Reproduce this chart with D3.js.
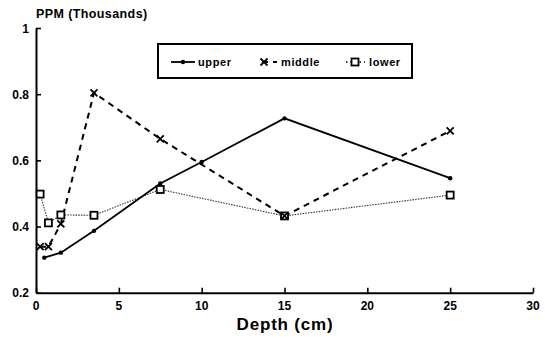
<!DOCTYPE html>
<html>
<head>
<meta charset="utf-8">
<script src="https://cdn.jsdelivr.net/npm/d3@7"></script>
<style>
  html, body { margin: 0; padding: 0; background: #fff; }
  svg { display: block; }
  text { font-family: "Liberation Sans", Arial, sans-serif; font-weight: bold; fill: #000; }
</style>
</head>
<body>
<svg id="chart" width="545" height="344"></svg>
<script>
// Depth (cm) and concentration (PPM, thousands) for each soil layer
const upperDepth = [0.5, 1.5, 3.5, 7.5, 10, 15, 25];
const upperPPM   = [0.306, 0.321, 0.387, 0.530, 0.595, 0.727, 0.546];

const middleDepth = [0.25, 0.75, 1.5, 3.5, 7.5, 15, 25];
const middlePPM   = [0.339, 0.339, 0.408, 0.804, 0.665, 0.432, 0.689];

const lowerDepth = [0.25, 0.75, 1.5, 3.5, 7.5, 15, 25];
const lowerPPM   = [0.498, 0.411, 0.435, 0.434, 0.512, 0.432, 0.495];

const xTicks = [0, 5, 10, 15, 20, 25, 30];
const yTicks = [0.2, 0.4, 0.6, 0.8, 1];
const yTickLabels = ["0.2", "0.4", "0.6", "0.8", "1"];
const seriesNames = ["upper", "middle", "lower"];

const svg = d3.select("#chart");

const x = d3.scaleLinear().domain([0, 30]).range([36, 533]);
const y = d3.scaleLinear().domain([0.2, 1]).range([292.7, 28]);

// Axes with inward-pointing ticks
const xAxis = d3.axisTop(x).tickValues(xTicks).tickSize(5).tickFormat("").tickSizeOuter(0);
const yAxis = d3.axisRight(y).tickValues(yTicks).tickSize(5).tickFormat("").tickSizeOuter(0);

const gx = svg.append("g").attr("transform", `translate(0,${y(0.2)})`).call(xAxis);
const gy = svg.append("g").attr("transform", `translate(${x(0)},0)`).call(yAxis);
[gx, gy].forEach(g => {
  g.select(".domain").attr("stroke", "#000").attr("stroke-width", 2);
  g.selectAll(".tick line").attr("stroke", "#000").attr("stroke-width", 1.6);
});

// Tick labels
svg.append("g").selectAll("text").data(xTicks).join("text")
  .attr("x", d => x(d)).attr("y", 310)
  .attr("text-anchor", "middle")
  .style("font-size", "12px")
  .text(d => d);

svg.append("g").selectAll("text").data(yTicks).join("text")
  .attr("x", 29).attr("y", d => y(d) + 4.5)
  .attr("text-anchor", "end")
  .style("font-size", "12px")
  .text((d, i) => yTickLabels[i]);

// Axis titles
svg.append("text").attr("x", 36).attr("y", 18)
  .style("font-size", "12.5px").style("letter-spacing", "0.4px")
  .text("PPM (Thousands)");

svg.append("text").attr("x", 285).attr("y", 330)
  .attr("text-anchor", "middle")
  .style("font-size", "17px").style("letter-spacing", "0.8px")
  .text("Depth (cm)");

const line = d3.line().x(d => x(d[0])).y(d => y(d[1]));

const upper = upperDepth.map((d, i) => [d, upperPPM[i]]);
const middle = middleDepth.map((d, i) => [d, middlePPM[i]]);
const lower = lowerDepth.map((d, i) => [d, lowerPPM[i]]);

// Lines
svg.append("path").datum(lower).attr("d", line)
  .attr("fill", "none").attr("stroke", "#333").attr("stroke-width", 1.1)
  .attr("stroke-dasharray", "1.5,1.2");
svg.append("path").datum(middle).attr("d", line)
  .attr("fill", "none").attr("stroke", "#000").attr("stroke-width", 2)
  .attr("stroke-dasharray", "6,5");
svg.append("path").datum(upper).attr("d", line)
  .attr("fill", "none").attr("stroke", "#000").attr("stroke-width", 1.8);

// Markers
function dotMarker(g, cx, cy) {
  g.append("circle").attr("cx", cx).attr("cy", cy).attr("r", 2.2).attr("fill", "#000");
}
function crossMarker(g, cx, cy) {
  const s = 3.5;
  g.append("path")
    .attr("d", `M${cx - s},${cy - s}L${cx + s},${cy + s}M${cx - s},${cy + s}L${cx + s},${cy - s}`)
    .attr("stroke", "#000").attr("stroke-width", 1.8).attr("fill", "none");
}
function squareMarker(g, cx, cy) {
  g.append("rect").attr("x", cx - 3.5).attr("y", cy - 3.5).attr("width", 7).attr("height", 7)
    .attr("fill", "#fff").attr("stroke", "#000").attr("stroke-width", 1.8);
}

const gm = svg.append("g");
lower.forEach(d => squareMarker(gm, x(d[0]), y(d[1])));
middle.forEach(d => crossMarker(gm, x(d[0]), y(d[1])));
upper.forEach(d => dotMarker(gm, x(d[0]), y(d[1])));

// Legend
const legend = svg.append("g");
legend.append("rect").attr("x", 158).attr("y", 44).attr("width", 254).attr("height", 34)
  .attr("fill", "#fff").attr("stroke", "#000").attr("stroke-width", 2);

const legendItems = [
  { name: seriesNames[0], x1: 171, x2: 195, cx: 183, tx: 198, dash: null, w: 1.8, marker: dotMarker },
  { name: seriesNames[1], x1: 262, x2: 277, cx: 264, tx: 281, dash: "6,5", w: 2, marker: crossMarker },
  { name: seriesNames[2], x1: 346, x2: 365, cx: 355, tx: 369, dash: "1.5,3", w: 1.3, marker: squareMarker }
];
legendItems.forEach(it => {
  const ly = 62;
  legend.append("line").attr("x1", it.x1).attr("x2", it.x2)
    .attr("y1", ly).attr("y2", ly)
    .attr("stroke", "#000").attr("stroke-width", it.w)
    .attr("stroke-dasharray", it.dash);
  it.marker(legend, it.cx, ly);
  legend.append("text").attr("x", it.tx).attr("y", 66)
    .style("font-size", "11px").style("letter-spacing", "0.6px")
    .text(it.name);
});
</script>
</body>
</html>
